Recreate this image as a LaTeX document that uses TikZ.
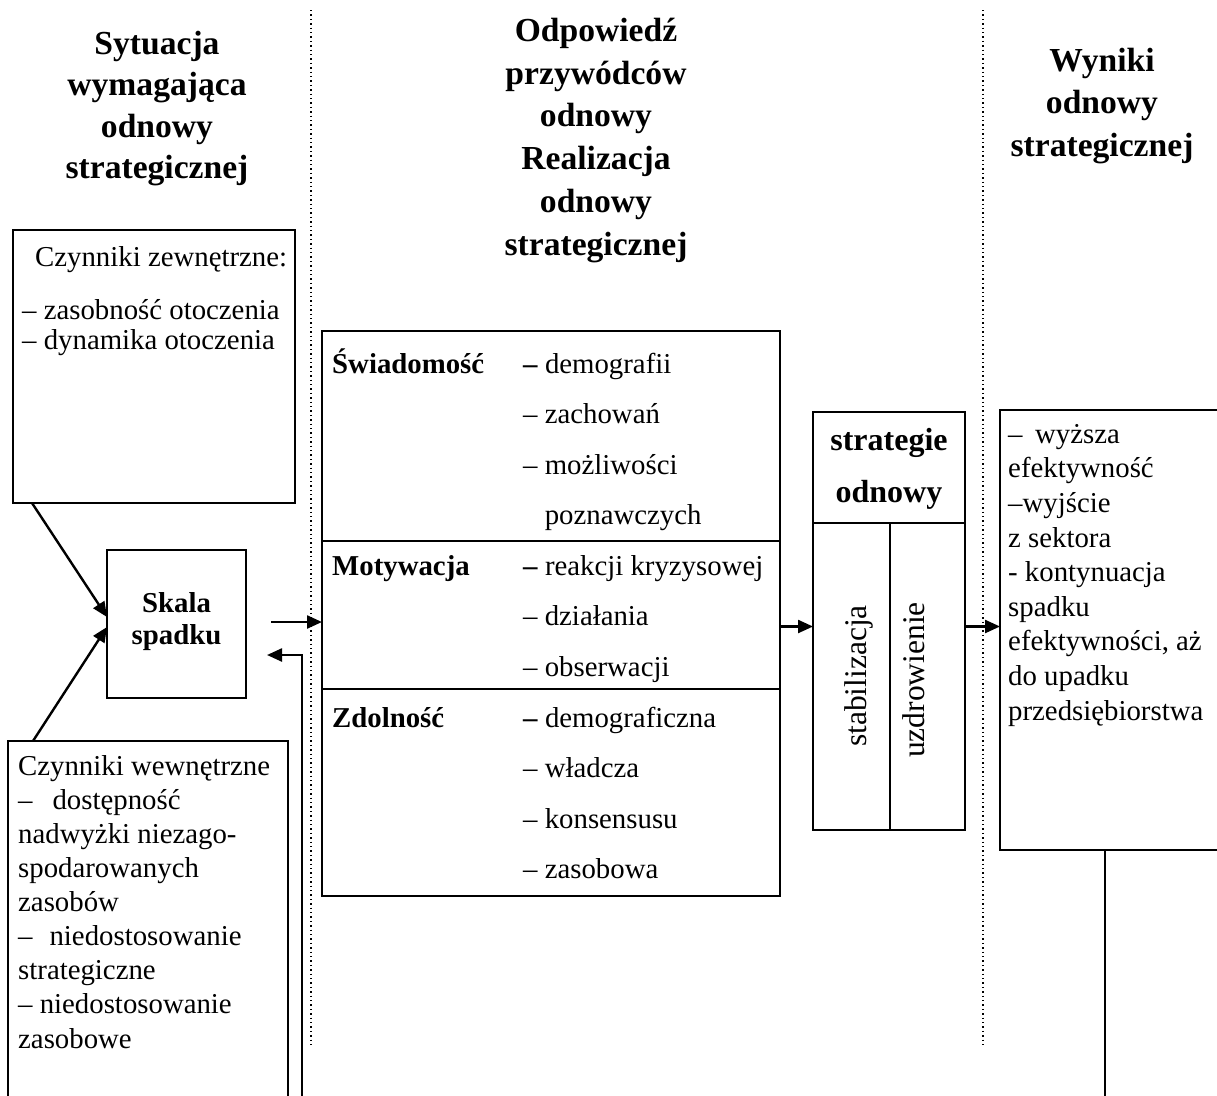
\documentclass[tikz,border=0pt]{standalone}
\usepackage{fontspec}
\setmainfont{Liberation Serif}
\usetikzlibrary{arrows.meta,calc}
\newcommand\lnstrut{\rule{0pt}{30pt}}
\begin{document}
\begin{tikzpicture}[x=1pt,y=-1pt,
  box/.style={draw, line width=1.9pt, inner sep=0pt, outer sep=0pt},
  arr/.style={line width=2.4pt, -{Triangle[length=15pt,width=13pt]}},
  plain/.style={line width=2.2pt},
  dotline/.style={line width=1.4pt, dash pattern=on 1.4pt off 3pt},
  head/.style={inner sep=0pt, anchor=north, align=center},
  txt/.style={inner sep=0pt, anchor=north west, align=left},
  rot/.style={inner sep=0pt, anchor=base, rotate=90, font=\fontsize{31.5}{36}\selectfont}]
\useasboundingbox (0,0) rectangle (1217,1095);
\clip (0,0) rectangle (1217,1095);

% column separators
\draw[dotline] (311,10) -- (311,1048);
\draw[dotline] (983,10) -- (983,1047);

% column headings
\node[head, font=\bfseries\fontsize{33.6}{41.5}\selectfont] (hdA) at (157,24) {\lnstrut Sytuacja\\wymagająca\\odnowy\\strategicznej};
\node[head, font=\bfseries\fontsize{33.6}{42.8}\selectfont] (hdB) at (596,11) {\lnstrut Odpowiedź\\przywódców\\odnowy\\Realizacja\\odnowy\\strategicznej};
\node[head, font=\bfseries\fontsize{33.6}{42.5}\selectfont] (hdC) at (1102,41) {\lnstrut Wyniki\\odnowy\\strategicznej};

% external factors
\node[box, minimum width=282pt, minimum height=273pt] (zew) at (154,366.5) {};
\node[txt, font=\fontsize{28.8}{30}\selectfont] (zewT) at (35,236) {\lnstrut Czynniki zewnętrzne:};
\node[txt, font=\fontsize{28.8}{30}\selectfont] (zewL) at (22,289) {\lnstrut – zasobność otoczenia\\– dynamika otoczenia};

% internal factors
\node[box, minimum width=280pt, minimum height=379pt] (wew) at (148,930.5) {};
\node[txt, font=\fontsize{28.8}{34.1}\selectfont] (wewT) at (18,745) {\lnstrut Czynniki wewnętrzne\\
  –\hspace{20pt}dostępność\\nadwyżki niezago-\\spodarowanych\\zasobów\\
  –\hspace{17pt}niedostosowanie\\strategiczne\\– niedostosowanie\\zasobowe};

% scale of decline
\node[box, minimum width=139pt, minimum height=148pt] (skala) at (176.5,624) {};
\node[head, font=\bfseries\fontsize{28.8}{32}\selectfont] (skalaT) at (176.5,582) {\lnstrut Skala\\spadku};

% leaders' response
\node[box, minimum width=458pt, minimum height=210pt] (sw) at (551,436) {};
\node[box, minimum width=458pt, minimum height=148pt] (mot) at (551,615) {};
\node[box, minimum width=458pt, minimum height=207pt] (zd) at (551,792.5) {};
\tikzset{lst/.style={txt, font=\fontsize{28.8}{50.5}\selectfont},
         lbl/.style={txt, font=\bfseries\fontsize{28.8}{50.5}\selectfont}}
\node[lbl] (swL) at (332,343) {\lnstrut Świadomość};
\node[lst] (swT) at (523,343) {\lnstrut \textbf{–} demografii\\– zachowań\\– możliwości\\\phantom{– }poznawczych};
\node[lbl] (motL) at (332,545) {\lnstrut Motywacja};
\node[lst] (motT) at (523,545) {\lnstrut \textbf{–} reakcji kryzysowej\\– działania\\– obserwacji};
\node[lbl] (zdL) at (332,697) {\lnstrut Zdolność};
\node[lst] (zdT) at (523,697) {\lnstrut \textbf{–} demograficzna\\– władcza\\– konsensusu\\– zasobowa};

% renewal strategies
\node[box, minimum width=152pt, minimum height=111pt] (stratH) at (889,467.5) {};
\node[head, font=\bfseries\fontsize{32}{52}\selectfont] (stratT) at (889,420) {\lnstrut strategie\\odnowy};
\node[box, minimum width=77pt, minimum height=307pt] (stabC) at (851.5,676.5) {};
\node[box, minimum width=75pt, minimum height=307pt] (uzdC) at (927.5,676.5) {};
\node[rot] (stab) at (866,676) {stabilizacja};
\node[rot] (uzdr) at (924,680) {uzdrowienie};

% outcomes
\node[box, minimum width=240pt, minimum height=440pt] (res) at (1120,630) {};
\node[txt, font=\fontsize{28.8}{34.6}\selectfont] (resT) at (1008,413) {\lnstrut –\hspace{12.6pt}wyższa\\efektywność\\–wyjście\\z sektora\\- kontynuacja\\spadku\\efektywności, aż\\do upadku\\przedsiębiorstwa};

% connectors
\draw[arr] ([xshift=19pt]zew.south west) -- ([yshift=7pt]skala.west);
\draw[arr] ([xshift=25pt]wew.north west) -- ([yshift=-3pt]skala.west);
\coordinate (s0) at ([xshift=25pt,yshift=2pt]skala.east);
\draw[arr] (s0) -- (s0 -| mot.west);
\coordinate (fbB) at (302,1100);
\coordinate (fbT) at ([xshift=21pt,yshift=-31pt]skala.east);
\draw[arr] (fbB) |- (fbT);
\coordinate (s1) at ([yshift=50pt]stabC.west);
\draw[arr] (s1 -| mot.east) -- (s1);
\draw[arr] (s1 -| uzdC.east) -- (s1 -| res.west);
\coordinate (rl) at (1105,1100);
\draw[plain] (rl |- res.south) -- (rl);
\end{tikzpicture}
\end{document}
